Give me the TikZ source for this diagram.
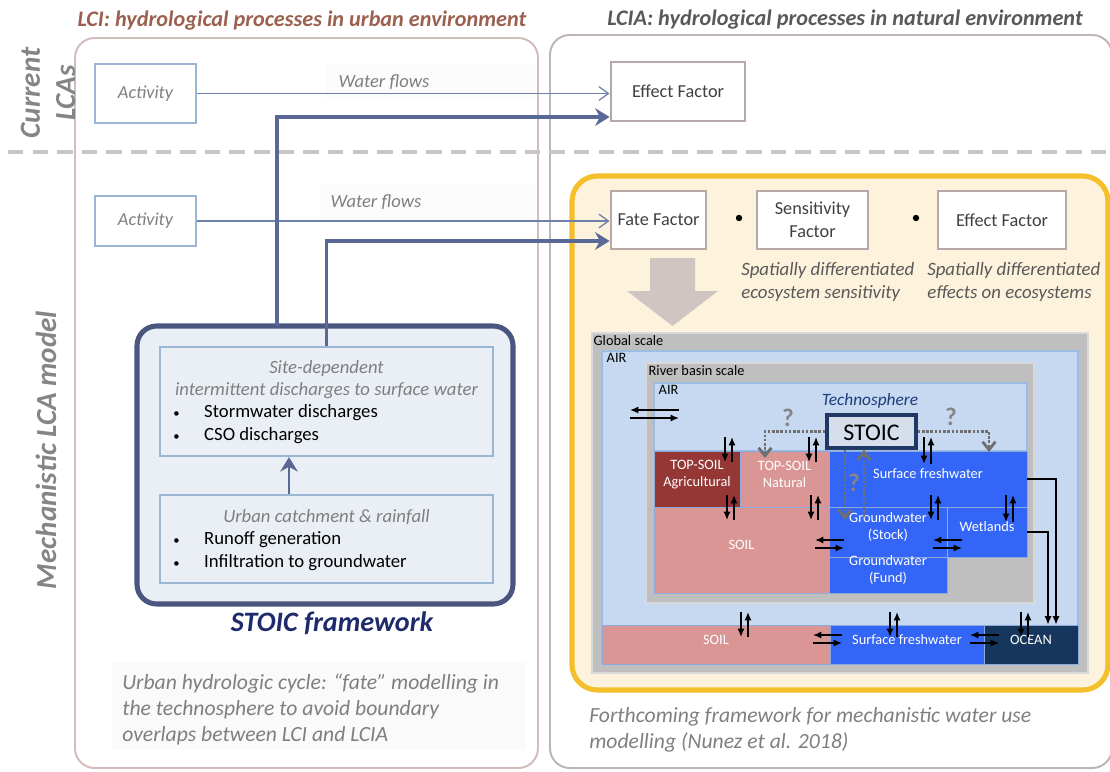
\documentclass[tikz,border=0pt]{standalone}
\usepackage{fontspec}
\setmainfont{Carlito}
\usepackage{tikz}
\usetikzlibrary{arrows.meta,positioning,calc,fit}
\definecolor{lcibrown}{HTML}{9C604F}
\definecolor{lciagray}{HTML}{595959}
\definecolor{sidegray}{HTML}{858585}
\definecolor{lciedge}{HTML}{D3BDBA}
\definecolor{lciaedge}{HTML}{BDB6B4}
\definecolor{actblue}{HTML}{9BB5D5}
\definecolor{txtgray}{HTML}{7F7F7F}
\definecolor{txtdark}{HTML}{404040}
\definecolor{facedge}{HTML}{B5A9A7}
\definecolor{thinblue}{HTML}{7080AC}
\definecolor{thickblue}{HTML}{5A6898}
\definecolor{gold}{HTML}{F4BF2A}
\definecolor{cream}{HTML}{FDF2DC}
\definecolor{bigarr}{HTML}{CFC6C2}
\definecolor{fwedge}{HTML}{4B5680}
\definecolor{fwfill}{HTML}{EAEFF5}
\definecolor{fwnavy}{HTML}{1F2A6B}
\definecolor{scalegray}{HTML}{BFBFBF}
\definecolor{airblue}{HTML}{C6D9F1}
\definecolor{airedge}{HTML}{9DBCE4}
\definecolor{agri}{HTML}{953735}
\definecolor{soilpink}{HTML}{D99694}
\definecolor{waterblue}{HTML}{3366F6}
\definecolor{ocean}{HTML}{17365D}
\definecolor{compedge}{HTML}{8EA9DB}
\definecolor{techblue}{HTML}{1F3B7A}
\definecolor{stoicnavy}{HTML}{1F3864}
\definecolor{stoicfill}{HTML}{D5DEEA}
\definecolor{qgray}{HTML}{6F6F6F}
\newcommand{\fs}[2]{\fontsize{#1}{#2}\selectfont}
\newcommand{\bul}{\makebox[22pt][l]{{\fs{9}{9}\textbullet}}}
% exchange arrows: down on the left, up on the right
\newcommand{\vpair}[3]{%
  \draw[xarr] (#1,#2) -- (#1,#3);
  \draw[xarr] (#1+7,#3) -- (#1+7,#2);}
% exchange arrows: left on top, right below
\newcommand{\hpair}[3]{%
  \draw[xarr] (#2,#3) -- (#1,#3);
  \draw[xarr] (#1,#3+8) -- (#2,#3+8);}

\begin{document}
\begin{tikzpicture}[x=0.025cm,y=-0.025cm,
  every node/.style={align=center},
  panel/.style={line width=1.4pt,rounded corners=14pt,inner sep=0pt},
  ttl/.style={font=\fs{15.8}{19}\bfseries\itshape},
  side/.style={font=\fs{20.7}{25}\bfseries\itshape,text=sidegray},
  actbox/.style={draw=actblue,line width=1.6pt,fill=white,text=txtgray,
                 font=\fs{13}{16}\itshape,minimum width=2.525cm,inner sep=0pt},
  factor/.style={draw=facedge,line width=2pt,fill=white,text=txtdark,
                 font=\fs{13}{16.5},minimum height=1.45cm,inner sep=0pt},
  flowlbl/.style={text=txtgray,font=\fs{13.2}{16}\itshape},
  thin/.style={-{Straight Barb[length=2.4mm,width=3.4mm]},line width=0.9pt,draw=thinblue},
  thick/.style={-{Stealth[length=3.6mm,width=4.4mm]},line width=2.4pt,draw=thickblue},
  innerbox/.style={draw=actblue,line width=1.6pt,fill=fwfill,inner sep=0pt},
  hdtxt/.style={text=txtgray,font=\fs{13.3}{15.6}\itshape},
  bultxt/.style={anchor=west,align=left,inner sep=0pt,font=\fs{13.3}{16.3}},
  note/.style={anchor=west,align=left,inner sep=0pt,text=txtgray,font=\fs{15.4}{18.5}\itshape},
  spat/.style={anchor=west,align=left,inner sep=0pt,text=lciagray,font=\fs{13.4}{16.4}\itshape},
  dotsep/.style={circle,fill=black,inner sep=0pt,minimum size=0.16cm},
  scalebox/.style={inner sep=0pt,line width=0.8pt},
  comp/.style={inner sep=0pt,draw=compedge,line width=0.6pt,text=white,font=\fs{10.2}{12.3}},
  small/.style={anchor=north west,inner sep=1pt,font=\fs{10.2}{12.3}},
  xarr/.style={-{Latex[length=2.1mm,width=1.8mm]},line width=1.1pt,black},
  dotarr/.style={-{Straight Barb[length=2mm,width=3.2mm]},line width=2pt,draw=qgray,
                 dash pattern=on 1.8pt off 1.2pt},
  qmark/.style={text=qgray!85,font=\fs{18}{20}\bfseries}
]
\useasboundingbox (0,0) rectangle (1110,771);

% two panels and titles
\node[panel,draw=lciedge,fit={(75,38) (538,768)}] (lci) {};
\node[panel,draw=lciaedge,fit={(550,35) (1112,768)}] (lcia) {};
\node[ttl,text=lcibrown] (tlci) at (302,21) {LCI: hydrological processes in urban environment};
\node[ttl,text=lciagray] (tlcia) at (845,20) {LCIA: hydrological processes in natural environment};
\node[side,rotate=90] (cur) at (48,93) {Current\\LCAs};
\node[side,rotate=90] (mech) at (46,450) {Mechanistic LCA model};
\draw[line width=2.8pt,draw=gray!45,dash pattern=on 11pt off 6.5pt] (8,152) -- (1110,152);

% faint label backgrounds
\fill[gray!2] (326,65) rectangle (536,100);
\fill[gray!2] (320,185) rectangle (536,220);
\fill[gray!4] (112,662) rectangle (525,750);

% current LCAs
\node[actbox,minimum height=1.475cm] (act1) at (145.5,93.5) {Activity};
\node[factor,minimum width=3.35cm,minimum height=1.475cm] (eff1) at (678,91.5) {Effect Factor};
\node[flowlbl] (wf1) at (384,82) {Water flows};
\draw[thin] (act1.east) -- (act1.east -| eff1.west);

% mechanistic model
\node[panel,draw=gold,fill=cream,line width=3.6pt,rounded corners=18pt,
      fit={(572,176) (1108,690)}] (yel) {};
\node[actbox,minimum height=1.25cm] (act2) at (145.5,221) {Activity};
\node[factor,minimum width=2.375cm] (fate) at (658.5,220) {Fate Factor};
\node[factor,minimum width=2.775cm] (sens) at (812.5,220) {Sensitivity\\Factor};
\node[factor,minimum width=3.2cm] (eff2) at (1002,220) {Effect Factor};
\node[dotsep] (dot1) at (739,218) {};
\node[dotsep] (dot2) at (916,218) {};
\node[flowlbl] (wf2) at (376,202) {Water flows};
\draw[thin] (act2.east) -- (act2.east -| fate.west);
\node[spat] (spat1) at (741,281.5) {Spatially differentiated\\ecosystem sensitivity};
\node[spat] (spat2) at (927,281.5) {Spatially differentiated\\effects on ecosystems};
\fill[bigarr] (650,258) -- (695,258) -- (695,291) -- (718,291) -- (672.5,326)
  -- (627,291) -- (650,291) -- cycle;

% STOIC framework
\node[panel,draw=fwedge,fill=fwfill,line width=3.6pt,rounded corners=14pt,
      fit={(137,326) (513,604)}] (fw) {};
\node[innerbox,fit={(160,347) (493,456)}] (site) {};
\node[innerbox,fit={(160,495) (493,583)}] (urban) {};
\node[hdtxt] (sitehd) at (326.5,380) {Site-dependent\\intermittent discharges to surface water};
\node[bultxt] (sitebul) at (173,424.5) {\bul Stormwater discharges\\\bul CSO discharges};
\node[hdtxt] (urbhd) at (326.5,517) {Urban catchment \& rainfall};
\node[bultxt] (urbbul) at (173,551) {\bul Runoff generation\\\bul Infiltration to groundwater};
\draw[thick,line width=2pt] (urban.north -| 289,0) -- (site.south -| 289,0);
\node[text=fwnavy,font=\fs{20}{24}\bfseries\itshape] (fwlbl) at (332,623) {STOIC framework};
\node[note] (urbnote) at (122,709) {Urban hydrologic cycle: “fate” modelling in\\the technosphere to avoid boundary\\overlaps between LCI and LCIA};
\draw[thick] (277,326) |- (eff1.west |- 0,117);
\draw[thick] (site.north) |- (fate.west |- 0,241);

% nested compartments
\node[scalebox,draw=gray!30,fill=scalegray,fit={(592,333) (1088,673)}] (glob) {};
\node[scalebox,draw=airedge,fill=airblue,fit={(602,351) (1078,664)}] (airo) {};
\node[scalebox,draw=gray!30,fill=scalegray,fit={(646,363) (1034,603)}] (basin) {};
\node[scalebox,draw=airedge,fill=airblue,fit={(654,383) (1027,451)}] (airi) {};
\node[small] (globlbl) at (592,334) {Global scale};
\node[small] (airolbl) at (605,352) {AIR};
\node[small] (basinlbl) at (647,364) {River basin scale};
\node[small] (airilbl) at (657,384) {AIR};
\node[comp,fill=agri,fit={(654,451) (740,507)}] (agri) {TOP-SOIL\\Agricultural};
\node[comp,fill=soilpink,fit={(740,451) (829,507)}] (nat) {TOP-SOIL\\Natural};
\node[comp,fill=waterblue,fit={(829,451) (1027,507)}] (sfw) {Surface freshwater};
\node[comp,fill=soilpink,fit={(654,507) (829,593)}] (soili) {SOIL};
\node[comp,fill=waterblue,fit={(829,507) (947,557)}] (gws) {Groundwater\\(Stock)};
\node[comp,fill=waterblue,fit={(947,507) (1027,557)}] (wet) {Wetlands};
\node[comp,fill=waterblue,fit={(829,557) (947,593)}] (gwf) {Groundwater\\(Fund)};
\node[comp,fill=soilpink,fit={(602,625) (830,664)}] (soilo) {SOIL};
\node[comp,fill=waterblue,fit={(830,625) (984,664)}] (sfwo) {Surface freshwater};
\node[comp,fill=ocean,fit={(984,625) (1078,664)}] (ocean) {OCEAN};
\node[text=techblue,font=\fs{12.3}{14}\itshape] (techno) at (870,401) {Technosphere};
\node[draw=stoicnavy,fill=stoicfill,line width=2.6pt,inner sep=0pt,
      fit={(827,415) (916,448)}] (stoic) {};
\node[font=\fs{17}{20}] (stoiclbl) at ([yshift=-0.04cm]stoic.center) {STOIC};

% exchanges
\hpair{630}{679}{410}
\vpair{725}{437}{462}
\vpair{809}{437}{462}
\vpair{924}{437}{464}
\vpair{727}{495}{520}
\vpair{811}{495}{520}
\vpair{931}{495}{520}
\vpair{1006}{495}{522}
\hpair{815}{844}{540}
\hpair{933}{962}{540}
\vpair{741}{612}{637}
\vpair{890}{612}{637}
\vpair{1021}{612}{637}
\hpair{813}{842}{635}
\hpair{970}{999}{635}
\draw[xarr] (sfw.east) -| (ocean.north -| 1056,0);
\draw[xarr] (wet.east) -| (ocean.north -| 1048,0);

% unknown links of STOIC
\draw[dotarr] (stoic.west) -| (765,458);
\draw[dotarr] (stoic.east) -| (989,452);
\draw[dotarr] (stoic.south -| 845,0) -- (845,520);
\draw[dotarr] (864,517) -- (stoic.south -| 864,0);
\node[qmark] (q1) at (788,418) {?};
\node[qmark] (q2) at (951,417) {?};
\node[qmark] (q3) at (854,483) {?};

\node[note] (fwnote) at (589,730) {Forthcoming framework for mechanistic water use\\modelling (Nunez et al. 2018)};
\end{tikzpicture}
\end{document}
